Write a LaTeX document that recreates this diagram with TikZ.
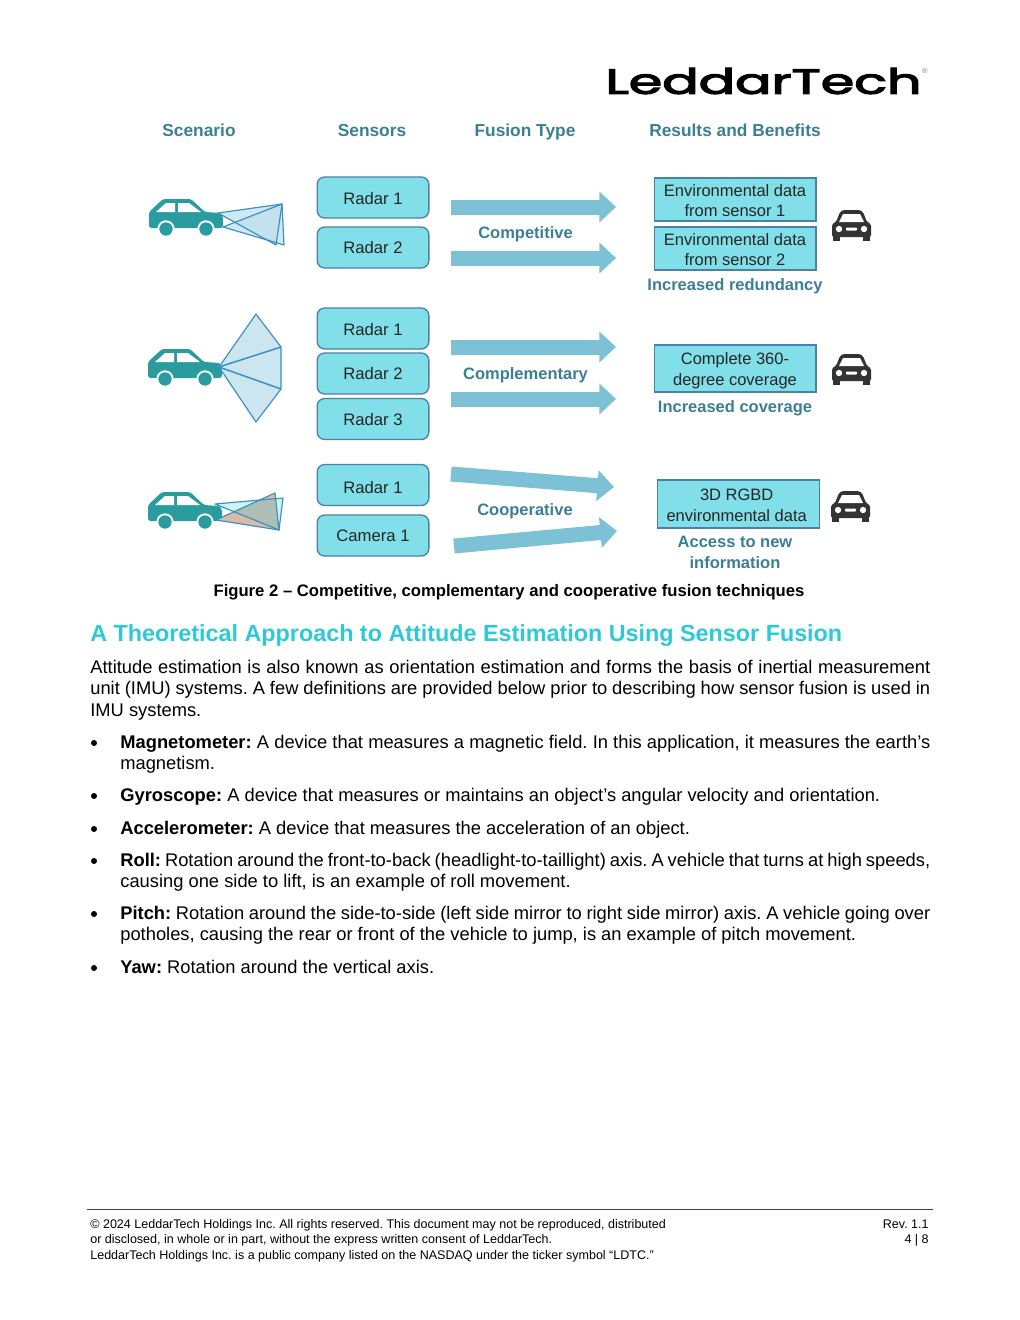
\documentclass[tikz,border=0pt]{standalone}
\usepackage{fontspec}
\usepackage{graphicx}
\setmainfont{Liberation Sans}
\usetikzlibrary{arrows.meta}
\definecolor{teal1}{HTML}{2A9CA0}
\definecolor{head}{HTML}{3A7F92}
\definecolor{boxfill}{HTML}{80DFE8}
\definecolor{boxline}{HTML}{4E7FA6}
\definecolor{arrowc}{HTML}{7CC1D6}
\definecolor{conel}{HTML}{3B8FC4}
\definecolor{conef}{HTML}{BFE0EC}
\definecolor{titlec}{HTML}{2CCAD6}
\definecolor{darkcar}{HTML}{333333}
\definecolor{tanf}{HTML}{D8BBA8}
\definecolor{cyanf}{HTML}{CFF2F6}
\definecolor{overf}{HTML}{AEBFB4}
\newcommand{\tealcar}[2]{\begin{scope}[shift={(#1,#2)}]
 \fill[teal1,rounded corners=1.5pt] (0,29) -- (0,13) -- (14,0) -- (42,0) -- (56,13) -- (72,14) -- (74,18) -- (74,29) -- cycle;
 \fill[white] (7,13) -- (17,4) -- (26,4) -- (26,13) -- cycle;
 \fill[white] (29,4) -- (40,4) -- (52,13) -- (29,13) -- cycle;
 \foreach \wx in {17,57}{\fill[white] (\wx,30) circle[radius=5.2pt]; \fill[teal1] (\wx,30) circle[radius=4pt];}
\end{scope}}
\newcommand{\darkcarpic}[2]{\begin{scope}[shift={(#1,#2)}]
 \fill[darkcar,rounded corners=1pt] (1,27) -- (1,14) -- (5,12) -- (9,2) -- (12,0) -- (29,0) -- (32,2) -- (36,12) -- (40,14) -- (40,27) -- cycle;
 \fill[darkcar] (2,26) rectangle (9,31); \fill[darkcar] (32,26) rectangle (39,31);
 \fill[white] (8,12) -- (12,4) -- (29,4) -- (33,12) -- cycle;
 \fill[white] (8,19) circle[radius=1.9pt]; \fill[white] (33,19) circle[radius=1.9pt];
 \fill[white,rounded corners=.5pt] (15,17.5) rectangle (26,20.5);
\end{scope}}
\tikzset{
 x=0.6pt,y=-0.6pt,
 sensor/.style={draw=boxline,fill=boxfill,line width=.8pt,rounded corners=4.5pt,minimum width=67pt,inner sep=0pt,font=\fontsize{10}{12}\selectfont,text=black!85},
 result/.style={draw=boxline,fill=boxfill,line width=.8pt,minimum width=97pt,inner sep=0pt,align=center,font=\fontsize{9.9}{12.3}\selectfont,text=black!85},
 hd/.style={anchor=base,font=\fontsize{9.9}{12.2}\selectfont\bfseries,text=head,align=center,inner sep=0pt},
 hdtop/.style={hd,font=\fontsize{10.4}{12}\selectfont\bfseries},
 fusion/.style={draw=arrowc,line width=9pt,-{Triangle[width=18pt,length=10pt]}},
 cone/.style={draw=conel,line width=.7pt,line join=round},
 body/.style={anchor=base west,inner sep=0pt,font=\fontsize{11}{13}\selectfont,text=black},
 foot/.style={anchor=base west,inner sep=0pt,font=\fontsize{7.52}{9.5}\selectfont,text=black},
 dot/.style={circle,fill=black,inner sep=0pt,minimum size=3.6pt},
}
\newcommand{\jl}[1]{\makebox[486pt][s]{#1}}
\newcommand{\rl}[2][-.6pt]{\raisebox{#1}[\height][\depth]{#2}}
\frenchspacing
\begin{document}
\begin{tikzpicture}
\useasboundingbox (0,0) rectangle (1020,1320);
% logo
\node[inner sep=0pt,anchor=center] (logo) at (763.5,81) {\scalebox{1.54}[1]{\fontsize{21}{21}\fontspec{Poppins}[FakeBold=3]LeddarTech}};
\node[inner sep=0pt,text=black!50,font=\fontsize{4.5}{5}\selectfont] (reg) at (925,71) {®};
% headers
\node[hdtop] (h1) at (199,136) {Scenario};
\node[hdtop] (h2) at (372,136) {Sensors};
\node[hdtop] (h3) at (525,136) {Fusion Type};
\node[hdtop] (h4) at (735,136) {Results and Benefits};
% cars
\tealcar{149}{199}
\tealcar{148}{349}
\tealcar{148}{492}
\darkcarpic{831}{210}
\darkcarpic{831}{354}
\darkcarpic{830}{491}
% cones row 1
\begin{scope}
\fill[conef,fill opacity=.75] (218,213) -- (282,204) -- (276,245) -- cycle;
\fill[conef,fill opacity=.75] (223,227) -- (282,204) -- (284,245) -- cycle;
\draw[cone] (218,213) -- (282,204) -- (276,245) -- cycle;
\draw[cone] (223,227) -- (282,204) -- (284,245) -- cycle;
\end{scope}
% cones row 2
\fill[conef,fill opacity=.8] (219,367) -- (256,314) -- (281,347) -- (281,389) -- (256,422) -- cycle;
\draw[cone] (219,367) -- (256,314) -- (281,347) -- (281,389) -- (256,422) -- cycle;
\draw[cone,line width=.9pt] (281,347) -- (219,367) -- (281,389);
% cones row 3
\fill[tanf] (216,520) -- (275,493) -- (279,530) -- cycle;
\fill[cyanf] (215,504) -- (283,498) -- (279,530) -- cycle;
\begin{scope}
\clip (216,520) -- (275,493) -- (279,530) -- cycle;
\fill[overf] (215,504) -- (283,498) -- (279,530) -- cycle;
\end{scope}
\draw[cone] (215,504) -- (283,498) -- (279,530) -- cycle;
\draw[cone] (216,520) -- (275,493) -- (279,530) -- cycle;
% sensors
\node[sensor,minimum height=24.6pt] (r11) at (373,197.5) {\rl{Radar 1}};
\node[sensor,minimum height=24.6pt] (r12) at (373,247.5) {Radar 2};
\node[sensor,minimum height=24.6pt] (r21) at (373,328.5) {\rl{Radar 1}};
\node[sensor,minimum height=24.6pt] (r22) at (373,373.5) {Radar 2};
\node[sensor,minimum height=24.6pt] (r23) at (373,419) {\rl{Radar 3}};
\node[sensor,minimum height=24.6pt] (r31) at (373,485) {\rl[-1.4pt]{Radar 1}};
\node[sensor,minimum height=24.6pt] (c31) at (373,535.5) {Camera 1};
% arrows
\coordinate (a1s) at (451,207); \coordinate (a1e) at (616,207);
\coordinate (a2s) at (451,258); \coordinate (a2e) at (616,258);
\coordinate (a3s) at (451,347); \coordinate (a3e) at (616,347);
\coordinate (a4s) at (451,399); \coordinate (a4e) at (616,399);
\coordinate (a5s) at (451,474); \coordinate (a5e) at (614,487);
\coordinate (a6s) at (454,546); \coordinate (a6e) at (617,531);
\foreach \n in {1,...,6}{\draw[fusion] (a\n s) -- (a\n e);}
\node[hd] (f1) at (525.5,238) {Competitive};
\node[hd] (f2) at (525.5,379) {Complementary};
\node[hd] (f3) at (525,515) {Cooperative};
% results
\node[result,minimum height=25.8pt] (e1) at (735,199.5) {\rl{Environmental data}\\\rl{from sensor 1}};
\node[result,minimum height=25.8pt] (e2) at (735,248.5) {\rl{Environmental data}\\\rl{from sensor 2}};
\node[result,minimum height=28.2pt,font=\fontsize{9.9}{12.6}\selectfont] (e3) at (735,368.5) {\rl[-1.2pt]{Complete 360-}\\\rl[-1.2pt]{degree coverage}};
\node[result,minimum height=28.8pt,font=\fontsize{9.9}{12.6}\selectfont] (e4) at (738.5,504) {\rl{3D RGBD}\hspace*{2.2pt}\\\rl{environmental data}\hspace*{2.2pt}};
\node[hd] (b1) at (735,290) {Increased redundancy};
\node[hd] (b2) at (735,412.5) {Increased coverage};
\node[hd,anchor=north] (b3) at (735,536) {Access to new\\information};
% caption
\node[anchor=base,inner sep=0pt,font=\fontsize{10}{12}\selectfont\bfseries] (cap) at (509,596) {Figure 2 – Competitive, complementary and cooperative fusion techniques};
% title
\node[anchor=base west,inner sep=0pt,text=titlec,font=\fontsize{14}{16}\selectfont\bfseries] (title) at (90,641) {A Theoretical Approach to Attitude Estimation Using Sensor Fusion};
% body
\node[body] (p1) at (90,673) {\makebox[504pt][s]{Attitude estimation is also known as orientation estimation and forms the basis of inertial measurement}};
\node[body] (p2) at (90,694) {\makebox[504pt][s]{unit (IMU) systems. A few definitions are provided below prior to describing how sensor fusion is used in}};
\node[body] (p3) at (90,716) {IMU systems.};
\node[dot] (d1) at (94,743) {};
\node[body] (l1) at (120,748) {\jl{\textbf{Magnetometer:} A device that measures a magnetic field. In this application, it measures the earth’s}};
\node[body] (l1b) at (120,769) {magnetism.};
\node[dot] (d2) at (94,796) {};
\node[body] (l2) at (120,801) {\textbf{Gyroscope:} A device that measures or maintains an object’s angular velocity and orientation.};
\node[dot] (d3) at (94,829) {};
\node[body] (l3) at (120,834) {\textbf{Accelerometer:} A device that measures the acceleration of an object.};
\node[dot] (d4) at (94,861) {};
\node[body] (l4) at (120,866) {\jl{\textbf{Roll:} Rotation around the front-to-back (headlight-to-taillight) axis. A vehicle that turns at high speeds,}};
\node[body] (l4b) at (120,887) {causing one side to lift, is an example of roll movement.};
\node[dot] (d5) at (94,914) {};
\node[body] (l5) at (120,919) {\jl{\textbf{Pitch:} Rotation around the side-to-side (left side mirror to right side mirror) axis. A vehicle going over}};
\node[body] (l5b) at (120,940) {potholes, causing the rear or front of the vehicle to jump, is an example of pitch movement.};
\node[dot] (d6) at (94,968) {};
\node[body] (l6) at (120,973) {\textbf{Yaw:} Rotation around the vertical axis.};
% footer
\coordinate (fa) at (87,1209); \coordinate (fb) at (933,1209);
\draw[black!75,line width=.6pt] (fa) -- (fb);
\node[foot] (t1) at (90,1228) {© 2024 LeddarTech Holdings Inc. All rights reserved. This document may not be reproduced, distributed};
\node[foot] (t2) at (90,1243) {or disclosed, in whole or in part, without the express written consent of LeddarTech.};
\node[foot] (t3) at (90,1259) {LeddarTech Holdings Inc. is a public company listed on the NASDAQ under the ticker symbol “LDTC.”};
\node[foot,anchor=base east] (t4) at (929,1228) {Rev. 1.1};
\node[foot,anchor=base east] (t5) at (929,1243) {4 | 8};
\end{tikzpicture}
\end{document}
